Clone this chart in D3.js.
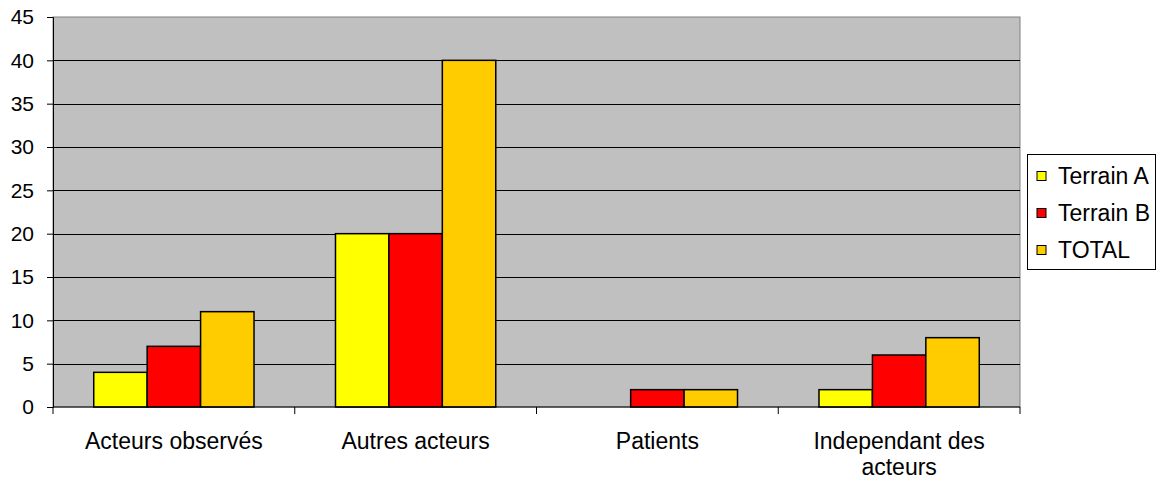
<!DOCTYPE html>
<html>
<head>
<meta charset="utf-8">
<script src="https://cdn.jsdelivr.net/npm/d3@7"></script>
<style>
  body { margin: 0; background: #fff; }
  text { font-family: "Liberation Sans", Arial, sans-serif; fill: #000; }
</style>
</head>
<body>
<div id="chart"></div>
<script>
// data
const categories = ["Acteurs observés", "Autres acteurs", "Patients", "Independant des acteurs"];
const seriesNames = ["Terrain A", "Terrain B", "TOTAL"];
const terrainA = [4, 20, 0, 2];
const terrainB = [7, 20, 2, 6];
const total = [11, 40, 2, 8];
const yTicks = [0, 5, 10, 15, 20, 25, 30, 35, 40, 45];
const colors = ["#ffff00", "#ff0000", "#ffcc00"];

const W = 1157, H = 483;
const margin = { top: 17, right: 137, bottom: 76, left: 53 };
const iw = W - margin.left - margin.right;
const ih = H - margin.top - margin.bottom;

const svg = d3.select("#chart").append("svg")
  .attr("width", W).attr("height", H);

const g = svg.append("g")
  .attr("transform", "translate(" + margin.left + "," + margin.top + ")");

const x0 = d3.scaleBand().domain(categories).range([0, iw]).paddingInner(0).paddingOuter(0);
const x1 = d3.scaleBand().domain(seriesNames).range([0, x0.bandwidth() * 0.663]);
const y = d3.scaleLinear().domain([0, 45]).range([ih, 0]);

// plot background
g.append("rect")
  .attr("width", iw).attr("height", ih)
  .attr("fill", "#c0c0c0")
  .attr("stroke", "#808080").attr("stroke-width", 1);

// gridlines
g.selectAll("line.grid")
  .data(yTicks.filter(t => t > 0 && t < 45))
  .enter().append("line")
  .attr("class", "grid")
  .attr("x1", 0).attr("x2", iw)
  .attr("y1", d => Math.round(y(d)) + 0.5).attr("y2", d => Math.round(y(d)) + 0.5)
  .attr("stroke", "#000").attr("stroke-width", 1);

// bars
const rows = categories.map((c, i) => ({ cat: c, vals: [terrainA[i], terrainB[i], total[i]] }));
const groupOffset = (x0.bandwidth() - x1.range()[1]) / 2;

const grp = g.selectAll("g.grp").data(rows).enter().append("g")
  .attr("transform", d => "translate(" + (x0(d.cat) + groupOffset) + ",0)");

grp.selectAll("rect")
  .data(d => d.vals.map((v, j) => ({ name: seriesNames[j], v, j })).filter(e => e.v > 0))
  .enter().append("rect")
  .attr("x", d => x1(d.name))
  .attr("width", x1.bandwidth())
  .attr("y", d => y(d.v))
  .attr("height", d => ih - y(d.v))
  .attr("fill", d => colors[d.j])
  .attr("stroke", "#000").attr("stroke-width", 1.5);

// y axis
const yAxis = g.append("g")
  .call(d3.axisLeft(y).tickValues(yTicks).tickSize(6).tickPadding(13));
yAxis.select(".domain").attr("stroke", "#000");
yAxis.selectAll(".tick line").attr("stroke", "#000");
yAxis.selectAll("text").style("font-size", "21px").attr("fill", "#000");

// x axis
const xAxisG = g.append("g").attr("transform", "translate(0," + ih + ")");
xAxisG.append("line").attr("x1", 0).attr("x2", iw).attr("stroke", "#000");
xAxisG.selectAll("line.tk")
  .data(d3.range(categories.length + 1))
  .enter().append("line")
  .attr("x1", i => i * x0.step()).attr("x2", i => i * x0.step())
  .attr("y1", 0).attr("y2", 7).attr("stroke", "#000");

const labelLines = [["Acteurs observés"], ["Autres acteurs"], ["Patients"], ["Independant des", "acteurs"]];
xAxisG.selectAll("text.cat")
  .data(categories)
  .enter().append("text")
  .attr("class", "cat")
  .attr("text-anchor", "middle")
  .style("font-size", "23px")
  .attr("x", d => x0(d) + x0.bandwidth() / 2)
  .attr("y", 42)
  .each(function (d, i) {
    const t = d3.select(this);
    labelLines[i].forEach((ln, k) => {
      t.append("tspan").attr("x", x0(d) + x0.bandwidth() / 2).attr("dy", k === 0 ? 0 : 26).text(ln);
    });
  });

// legend
const leg = svg.append("g").attr("transform", "translate(1027,154)");
leg.append("rect").attr("x", 0.5).attr("y", 0.5).attr("width", 128).attr("height", 115)
  .attr("fill", "#fff").attr("stroke", "#000");
const li = leg.selectAll("g.li").data(seriesNames).enter().append("g")
  .attr("transform", (d, i) => "translate(10," + (22 + i * 37) + ")");
li.append("rect").attr("x", 0).attr("y", -4.5).attr("width", 9).attr("height", 9)
  .attr("fill", (d, i) => colors[i]).attr("stroke", "#000");
li.append("text").attr("x", 21).attr("y", 8).style("font-size", "23px").text(d => d);
</script>
</body>
</html>
